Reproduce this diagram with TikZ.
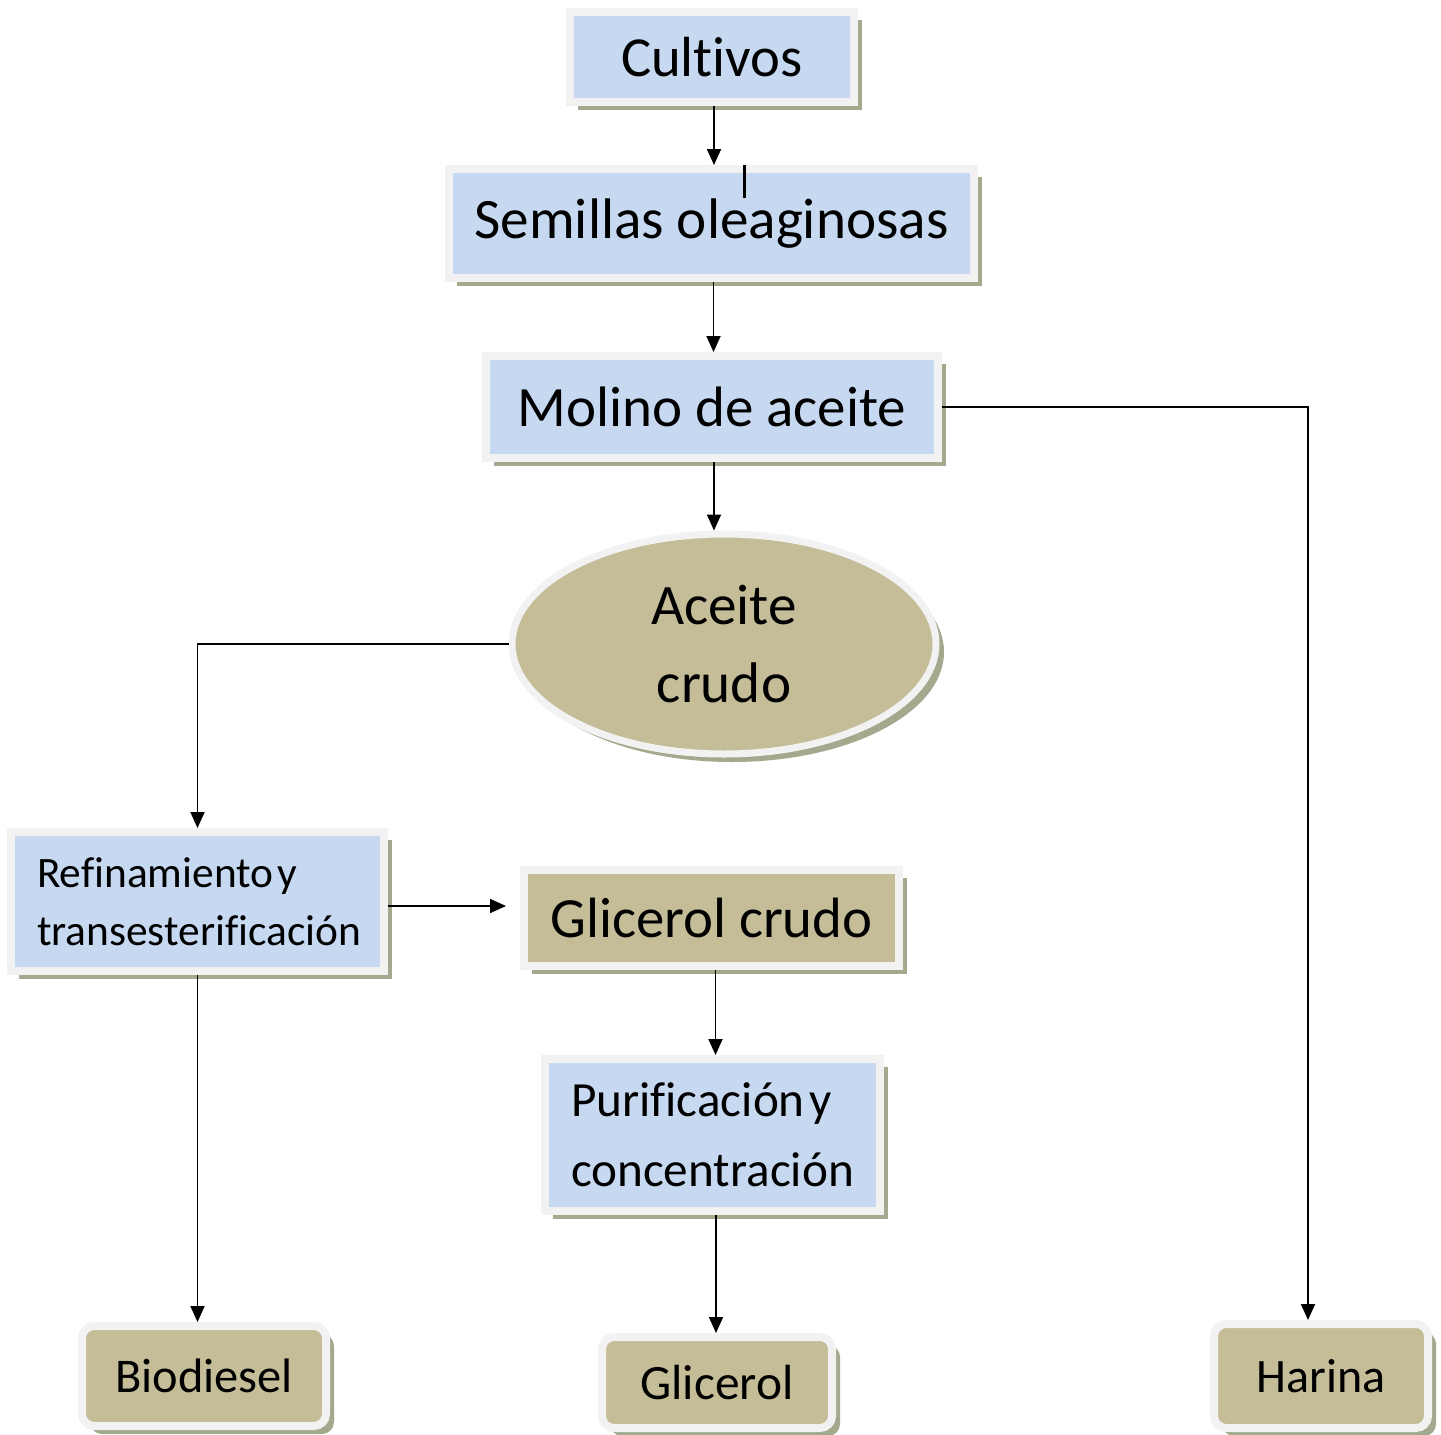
\documentclass[tikz,border=0pt]{standalone}
\usepackage{fontspec}
\setmainfont{Carlito}[Ligatures=NoCommon]
\usetikzlibrary{arrows.meta,shapes.geometric,shadows,calc}

\definecolor{boxblue}{HTML}{C6D9F1}
\definecolor{boxtan}{HTML}{C4BD97}
\definecolor{framegray}{HTML}{F2F2F2}
\definecolor{shadowolive}{HTML}{A3A98C}

\tikzset{
  base/.style={draw=framegray, line width=4pt, inner sep=0pt,
    drop shadow={shadow xshift=4pt, shadow yshift=-4pt, fill=shadowolive, opacity=1}},
  bluebox/.style={base, rectangle, fill=boxblue},
  tanbox/.style={base, rectangle, fill=boxtan},
  endbox/.style={base, rectangle, fill=boxtan, rounded corners=6pt},
  oval/.style={base, ellipse, fill=boxtan, line width=3.5pt},
  flow/.style={line width=0.9pt, -{Triangle[width=7pt,length=8pt]}},
}

\begin{document}
\begin{tikzpicture}[x=0.5pt, y=-0.5pt]
  \useasboundingbox[fill=white] (0,0) rectangle (1441,1435);

  % main chain
  \node[bluebox, minimum width=142pt, minimum height=45pt,
        font={\fontsize{28.3}{34}\selectfont}] (cult) at (712,57)
        {\raisebox{-1.5pt}{Cultivos}};
  \node[bluebox, minimum width=262.5pt, minimum height=54.5pt,
        font={\fontsize{28.6}{34}\selectfont}] (semi) at (711.5,223.5) {Semillas oleaginosas};
  \node[bluebox, minimum width=226pt, minimum height=51pt,
        font={\fontsize{28.5}{34}\selectfont}] (mol) at (712,407) {Molino de aceite};
  \node[oval, minimum width=212pt, minimum height=110pt, align=center,
        font={\fontsize{28.6}{39}\selectfont}] (ace) at (724,644) {Aceite\\crudo};

  % processing steps
  \node[bluebox, minimum height=69.5pt, text width=160.5pt, inner xsep=13pt, align=left,
        font={\fontsize{21.7}{29}\selectfont}] (ref) at (197.5,901.5)
        {Refinamiento\hspace{0.1em}y\\transesterificación};
  \node[tanbox, minimum width=187.5pt, minimum height=48pt,
        font={\fontsize{28.4}{34}\selectfont}] (gc) at (711.5,918) {Glicerol crudo};
  \node[bluebox, minimum height=76pt, text width=141.5pt, inner xsep=13pt, align=left,
        font={\fontsize{24.6}{35}\selectfont}] (pur) at (712.5,1135)
        {Purificación\hspace{0.1em}y\\concentración};

  % products
  \node[endbox, minimum width=122pt, minimum height=50pt,
        font={\fontsize{24.2}{30}\selectfont}] (bio) at (204,1376) {Biodiesel};
  \node[endbox, minimum width=115pt, minimum height=45.5pt,
        font={\fontsize{24.7}{30}\selectfont}] (gli) at (717,1382.5) {Glicerol};
  \node[endbox, minimum width=107pt, minimum height=52pt,
        font={\fontsize{24}{30}\selectfont}] (har) at (1321,1376) {Harina};

  \coordinate (harx) at (1308,0);

  % connectors
  \draw[flow] ([xshift=1pt]cult.south) -- ([xshift=1pt]cult.south |- semi.north);
  \draw[line width=1.3pt] ([xshift=16.5pt]semi.north) -- ++(0,33);
  \draw[flow] ([xshift=1pt]semi.south) -- ([xshift=1pt]semi.south |- mol.north);
  \draw[flow] ([xshift=1pt]mol.south) -- ([xshift=1pt]mol.south |- ace.north);
  \draw[flow] (ace.west) -| (ref.north);
  \draw[flow] (mol.east) -| (harx |- har.north);
  \draw[flow, shorten >=7pt] ([yshift=-2.25pt]ref.east) -- ([yshift=-2.25pt]ref.east -| gc.west);
  \draw[flow] (ref.south) -- (ref.south |- bio.north);
  \draw[flow] ([xshift=2pt]gc.south) -- ([xshift=2pt]gc.south |- pur.north);
  \draw[flow] ([xshift=1.75pt]pur.south) -- ([xshift=1.75pt]pur.south |- gli.north);
\end{tikzpicture}
\end{document}
